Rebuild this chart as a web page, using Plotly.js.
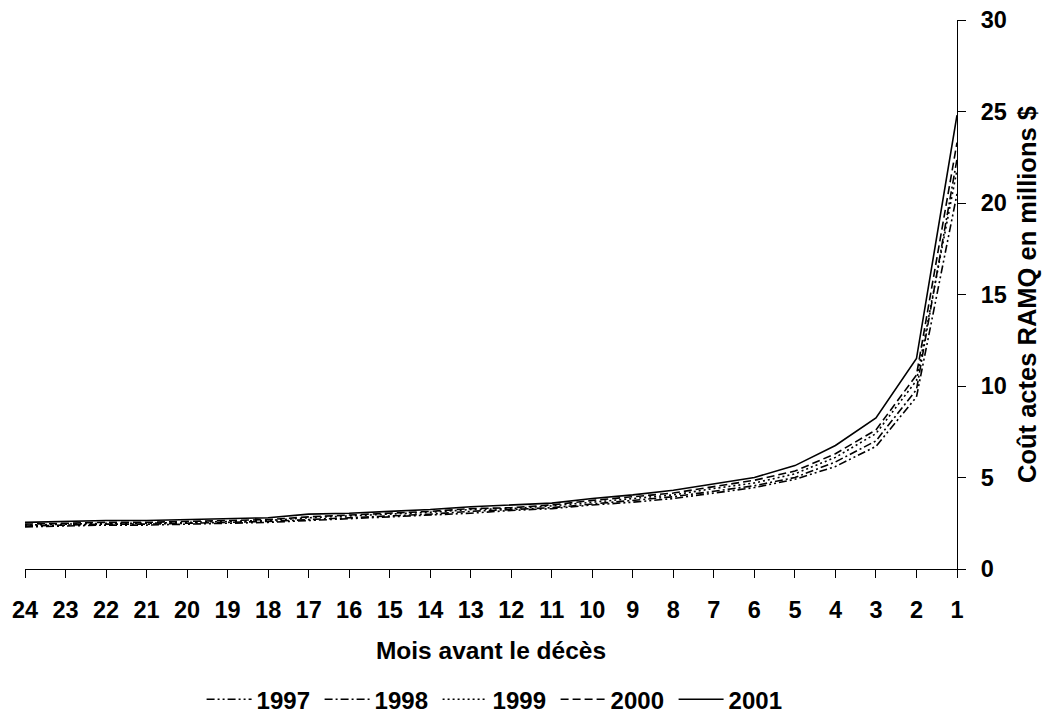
<!DOCTYPE html>
<html><head><meta charset="utf-8">
<script src="https://cdn.plot.ly/plotly-3.0.1.min.js"></script>
<style>body{margin:0;background:#fff}#c{width:1043px;height:715px}</style>
</head><body><div id="c"></div>
<script>
const months = ["24","23","22","21","20","19","18","17","16","15","14","13","12","11","10","9","8","7","6","5","4","3","2","1"];
const y1997 = [2.3,2.35,2.4,2.4,2.45,2.5,2.55,2.65,2.75,2.85,2.95,3.05,3.2,3.3,3.5,3.65,3.85,4.15,4.45,4.9,5.6,6.7,9.4,20.5];
const y1998 = [2.35,2.4,2.45,2.45,2.5,2.55,2.6,2.7,2.8,2.9,3.0,3.15,3.25,3.35,3.55,3.75,3.95,4.25,4.55,5.0,5.85,7.0,9.8,22.4];
const y1999 = [2.4,2.45,2.5,2.5,2.55,2.6,2.65,2.8,2.9,3.0,3.1,3.25,3.3,3.45,3.65,3.85,4.05,4.4,4.7,5.2,6.1,7.4,10.3,21.8];
const y2000 = [2.45,2.5,2.55,2.55,2.6,2.65,2.7,2.85,2.95,3.05,3.15,3.3,3.35,3.5,3.75,3.95,4.15,4.5,4.85,5.35,6.3,7.6,10.6,23.3];
const y2001 = [2.55,2.6,2.65,2.65,2.7,2.75,2.8,3.0,3.05,3.15,3.25,3.4,3.5,3.6,3.85,4.05,4.3,4.65,5.0,5.65,6.75,8.25,11.5,24.8];
const seriesNames = ["1997","1998","1999","2000","2001"];
const seriesData = [y1997,y1998,y1999,y2000,y2001];
const dashes = ["8px,3px,2px,3px,2px,3px","8px,3px,2px,3px","2px,3px","8px,4px","solid"];
const traces = seriesNames.map((n,i)=>({
  x: months, y: seriesData[i], name: n, type:'scatter', mode:'lines',
  line:{color:'#000', width:1.6, dash:dashes[i]}
}));
const F = "Liberation Sans, Arial, sans-serif";
const layout = {
  width:1043, height:715,
  margin:{l:25, r:86, t:20, b:146, autoexpand:false},
  paper_bgcolor:'#fff', plot_bgcolor:'#fff',
  showlegend:true,
  legend:{orientation:'h', x:0.506, xanchor:'center', y:-0.238, yanchor:'middle',
    font:{family:F, size:24, color:'#000', weight:700}, itemwidth:45,
    entrywidth:58, entrywidthmode:'pixels', traceorder:'normal'},
  xaxis:{type:'category', range:[0,23], showgrid:false, zeroline:false, automargin:false,
    showline:true, linecolor:'#000', linewidth:1, ticks:'outside', ticklen:8, tickcolor:'#000',
    ticklabelstandoff:12,
    tickfont:{family:F, size:23.5, color:'#000', weight:700},
    title:{text:'Mois avant le décès', font:{family:F, size:24.5, color:'#000', weight:700}, standoff:19}},
  yaxis:{side:'right', range:[0,30], dtick:5, showgrid:false, zeroline:false, automargin:false,
    showline:true, linecolor:'#000', linewidth:1, ticks:'outside', ticklen:8, tickcolor:'#000',
    ticklabelstandoff:10,
    tickfont:{family:F, size:23.5, color:'#000', weight:700},
    title:{text:'Coût actes RAMQ en millions $', font:{family:F, size:25.5, color:'#000', weight:700}, standoff:12}}
};
Plotly.newPlot('c', traces, layout, {displayModeBar:false, staticPlot:true});
</script></body></html>
